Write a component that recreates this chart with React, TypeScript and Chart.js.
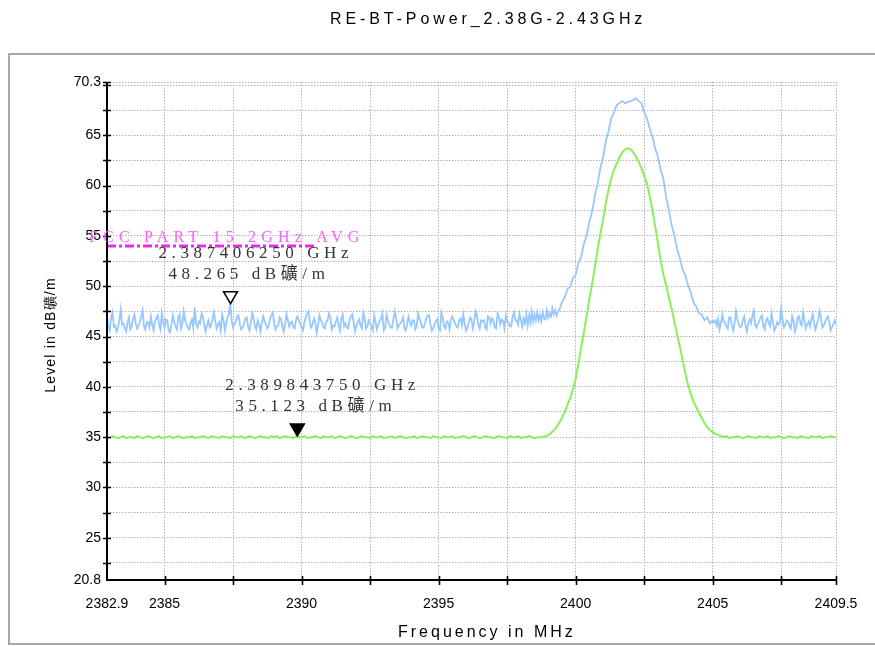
import React, { useEffect, useRef } from 'react';
import { Chart, registerables } from 'chart.js';

Chart.register(...registerables);

const TITLE = 'RE-BT-Power_2.38G-2.43GHz';
const X_TITLE = 'Frequency in MHz';
const Y_TITLE = 'Level in dB礦/m';

const X_MIN = 2382.9;
const X_MAX = 2409.5;
const Y_MIN = 20.8;
const Y_MAX = 70.3;

const xTickValues = [2382.9, 2385, 2387.5, 2390, 2392.5, 2395, 2397.5, 2400, 2402.5, 2405, 2407.5, 2409.5];
const xTickLabels = ['2382.9', '2385', '', '2390', '', '2395', '', '2400', '', '2405', '', '2409.5'];
const yTickValues = [20.8, 22.5, 25, 27.5, 30, 32.5, 35, 37.5, 40, 42.5, 45, 47.5, 50, 52.5, 55, 57.5, 60, 62.5, 65, 67.5, 70, 70.3];
const yTickLabels = ['20.8', '', '25', '', '30', '', '35', '', '40', '', '45', '', '50', '', '55', '', '60', '', '65', '', '', '70.3'];

// Peak trace (blue)
const blueLeftStart = 2382.9;
const blueLeftStep = 0.05;
const blueLeft = [
  46.8, 46.1, 45.6, 46.9, 47.4, 46.0, 46.1, 45.5, 45.9, 46.6, 47.7, 46.2, 46.3, 45.8, 45.5,
  46.4, 46.9, 45.7, 46.0, 46.8, 47.2, 46.3, 45.8, 46.1, 46.5, 47.0, 47.6, 46.0, 45.7, 46.4,
  46.4, 45.9, 47.0, 46.2, 45.6, 46.5, 46.8, 47.1, 46.2, 45.7, 47.3, 46.4, 45.9, 46.7, 46.6,
  45.6, 45.4, 46.2, 47.1, 46.5, 46.0, 45.7, 46.9, 47.2, 45.8, 46.3, 47.5, 46.6, 46.2, 45.9,
  45.7, 46.4, 46.7, 45.8, 47.9, 46.3, 45.9, 46.5, 46.3, 47.3, 47.0, 46.1, 45.5, 46.2, 46.6,
  45.9, 46.1, 46.8, 47.4, 46.5, 45.8, 46.2, 46.4, 45.6, 47.2, 46.7, 45.6, 46.3, 46.9, 47.3,
  48.2, 46.5, 45.9, 46.3, 46.5, 47.0, 47.1, 46.2, 45.7, 45.9, 46.3, 46.8, 46.9, 46.0, 45.6,
  46.4, 47.3, 46.8, 46.0, 45.7, 46.6, 46.2, 45.5, 46.4, 47.0, 46.5, 46.2, 45.8, 46.1, 46.8,
  47.1, 47.4, 46.3, 45.7, 46.0, 46.1, 46.9, 46.7, 46.0, 45.5, 46.3, 47.2, 46.6, 46.0, 46.4,
  46.5, 45.9, 45.8, 46.7, 47.0, 46.6, 46.3, 45.9, 45.6, 46.4, 46.9, 47.3, 47.5, 46.4, 45.9,
  46.2, 46.8, 46.4, 45.4, 46.1, 47.1, 46.6, 46.4, 45.9, 45.8, 46.5, 46.6, 47.3, 46.9, 45.7,
  46.1, 46.0, 46.5, 46.9, 46.2, 45.6, 46.8, 47.2, 46.0, 46.3, 45.9, 45.8, 46.7, 47.0, 47.2,
  46.4, 45.5, 46.1, 46.4, 46.7, 46.1, 45.8, 47.4, 46.9, 45.8, 46.0, 46.6, 46.3, 46.0, 45.6,
  47.1, 46.4, 45.7, 46.2, 46.5, 46.8, 47.3, 45.6, 45.9, 47.2, 46.6, 46.2, 45.9, 45.9, 46.7,
  47.5, 46.8, 45.8, 46.1, 46.3, 46.5, 46.9, 45.8, 45.6, 46.2, 47.0, 46.5, 46.1, 46.6, 46.6,
  45.7, 46.0, 47.3, 46.8, 46.4, 45.9, 45.9, 46.3, 46.8, 47.1, 47.1, 46.2, 45.6, 45.8, 46.2,
  46.5, 46.7, 45.8, 45.6, 47.4, 46.9, 46.0, 45.8, 46.5, 46.4, 45.7, 46.7, 47.0, 46.6, 46.3,
  46.0, 45.9, 46.6, 46.8, 46.1, 47.2, 46.3, 45.6, 45.9, 46.4, 46.9, 46.7, 45.8, 46.4, 47.5,
  47.1, 46.1, 45.8, 46.6, 46.5, 46.6, 45.9, 45.7, 47.0, 46.9, 46.3, 46.8, 46.6, 45.9, 45.8,
  47.3, 47.0, 46.2, 46.7, 46.6, 45.8, 47.1, 46.5, 46.4, 46.0, 46.0, 47.0, 47.4, 46.6, 46.6,
  46.2, 47.3, 46.7, 46.0, 46.8, 46.3, 47.2, 46.1, 47.1, 46.4, 47.5, 46.5, 47.2, 46.6, 47.4,
  46.6, 47.1, 46.5, 47.4, 46.8, 46.7, 47.6, 46.9, 47.3, 47.0, 47.8, 47.2, 47.6, 47.1, 47.5,
];
const bluePeakStart = 2399.4;
const bluePeakStep = 0.1;
const bluePeak = [
  47.6, 48.4, 48.9, 49.7, 50.0, 50.8, 51.1, 52.3, 52.9, 54.2,
  55.0, 56.4, 57.4, 59.0, 60.2, 61.7, 62.8, 64.4, 65.4, 66.7,
  67.3, 68.0, 68.2, 68.4, 68.2, 68.3, 68.4, 68.5, 68.7, 68.4,
  68.2, 67.3, 66.7, 65.7, 64.9, 63.7, 62.9, 61.6, 60.7, 58.9,
  57.6, 56.1, 55.1, 53.7, 52.8, 51.7, 51.1, 50.1, 49.4, 48.4,
  48.0, 47.3, 47.2, 46.6, 46.9, 46.3, 46.6,
];
const blueRightStart = 2405.05;
const blueRightStep = 0.05;
const blueRight = [
  46.4, 46.6, 46.1, 46.8, 45.7, 46.3, 47.2, 46.5, 46.4, 46.0, 45.8, 46.9, 46.9, 46.2, 45.6,
  46.3, 47.5, 46.7, 46.2, 45.9, 46.0, 46.6, 47.0, 46.1, 45.5, 46.4, 46.7, 46.3, 47.1, 47.6,
  46.2, 45.9, 46.3, 46.5, 46.9, 47.1, 46.0, 45.7, 46.6, 46.8, 46.3, 46.0, 47.3, 46.4, 45.6,
  45.9, 46.4, 46.2, 46.4, 47.8, 46.7, 45.9, 46.2, 46.6, 46.5, 46.1, 45.8, 47.0, 46.6, 45.5,
  45.9, 46.9, 47.0, 46.3, 46.1, 47.4, 46.6, 45.8, 46.2, 46.5, 46.0, 46.7, 47.2, 46.3, 45.7,
  46.2, 46.7, 47.5, 46.9, 45.9, 46.1, 46.4, 46.8, 47.0, 46.5, 45.6, 45.9, 46.2, 46.6, 46.2,
];

// Average trace (green), 0.1 MHz steps from 2382.9
const greenStart = 2382.9;
const greenStep = 0.1;
const greenLeft = [
  35.0, 34.9, 35.1, 35.0, 34.9, 35.0, 35.1, 34.9, 35.0, 35.0, 34.9, 35.1, 35.0, 34.9, 35.0,
  35.1, 35.0, 34.9, 35.0, 35.1, 34.9, 35.0, 35.0, 35.1, 34.9, 35.0, 35.1, 35.0, 34.9, 35.0,
  35.0, 35.1, 34.9, 35.0, 35.0, 35.1, 35.0, 34.9, 35.1, 35.0, 35.0, 34.9, 35.1, 35.0, 35.0,
  34.9, 35.1, 35.0, 35.0, 35.1, 34.9, 35.0, 35.1, 35.0, 34.9, 35.0, 35.1, 35.0, 35.0, 34.9,
  35.1, 35.0, 35.1, 34.9, 35.0, 35.1, 35.0, 35.0, 34.9, 35.1, 35.0, 35.0, 35.1, 34.9, 35.0,
  35.0, 35.1, 35.0, 34.9, 35.1, 35.0, 35.0, 35.1, 34.9, 35.0, 35.1, 35.0, 34.9, 35.0, 35.1,
  35.0, 34.9, 35.0, 35.1, 35.0, 35.0, 34.9, 35.1, 35.0, 35.0, 35.1, 34.9, 35.0, 35.0, 35.1,
  34.9, 35.0, 35.1, 35.0, 34.9, 35.0, 35.0, 35.1, 34.9, 35.0, 35.1, 35.0, 35.0, 34.9, 35.1,
  35.0, 35.0, 34.9, 35.1, 35.0, 35.0, 35.1, 34.9, 35.0, 35.0, 35.1, 35.0, 34.9, 35.0, 35.1,
  35.0, 34.9, 35.0, 35.1, 35.0, 35.0, 34.9, 35.0, 35.1, 35.0, 35.0, 34.9, 35.1, 35.0, 35.0,
  35.1, 34.9, 35.0, 35.0, 35.1, 35.0, 34.9, 35.0, 35.0,
];
const greenPeak = [
  35.0, 35.1,
  35.2, 35.4, 35.7, 36.0, 36.4, 36.9, 37.5, 38.2, 38.9, 39.7,
  40.8, 42.3, 43.9, 45.4, 47.0, 48.7, 50.2, 51.9, 53.6, 55.2,
  56.6, 58.2, 59.6, 60.7, 61.6, 62.2, 62.8, 63.3, 63.6, 63.7,
  63.6, 63.3, 62.9, 62.4, 61.7, 61.0, 60.2, 59.0, 57.6, 56.0,
  54.3, 52.6, 51.2, 50.1, 48.9, 47.8, 46.5, 45.2, 44.0, 42.7,
  41.4, 40.2, 39.3, 38.5, 38.0, 37.4, 36.9, 36.4, 36.0, 35.7,
  35.5, 35.3, 35.2, 35.1,
];
const greenRight = [
  35.0, 35.1, 34.9, 35.0, 35.0, 35.1, 35.0, 34.9, 35.0, 35.1, 35.0, 35.0, 34.9, 35.1,
  35.0, 35.0, 35.1, 34.9, 35.0, 35.0, 35.1, 35.0, 34.9, 35.0, 35.1, 35.0, 35.0, 34.9,
  35.1, 35.0, 35.0, 34.9, 35.1, 35.0, 35.0, 35.1, 34.9, 35.0, 35.0, 35.1, 35.0, 35.0,
];

// Limit line
const limitLabel = 'FCC PART 15 2GHz AVG';
const limitLevel = 54;
const limitStartMHz = 2382.9;
const limitEndMHz = 2390.5;

// Markers
const markerFreqs = [2387.40625, 2389.84375];
const markerLevels = [48.265, 35.123];
const markerFreqTexts = ['2.387406250 GHz', '2.389843750 GHz'];
const markerLevelTexts = ['48.265 dB礦/m', '35.123 dB礦/m'];
const markerFilled = [false, true];

const toPoints = (vals: number[], start: number, step: number) =>
  vals.map((v, i) => ({ x: Math.round((start + i * step) * 1000) / 1000, y: v }));

const SANS = "'Liberation Sans', Arial, sans-serif";
const SERIF = "'Liberation Serif', 'Noto Sans CJK SC', serif";

function drawText(
  ctx: CanvasRenderingContext2D,
  text: string,
  x: number,
  y: number,
  font: string,
  color: string,
  spacing: number,
) {
  ctx.save();
  ctx.font = font;
  ctx.fillStyle = color;
  (ctx as any).letterSpacing = spacing + 'px';
  ctx.textAlign = 'left';
  ctx.textBaseline = 'alphabetic';
  ctx.fillText(text, x, y);
  ctx.restore();
}

const overlayPlugin = {
  id: 'overlay',
  beforeDraw(chart: any) {
    const ctx: CanvasRenderingContext2D = chart.ctx;
    ctx.save();
    ctx.fillStyle = '#ffffff';
    ctx.fillRect(0, 0, chart.width, chart.height);
    ctx.strokeStyle = '#a8a8a8';
    ctx.lineWidth = 2;
    ctx.strokeRect(9, 54, chart.width + 20, 590);
    ctx.restore();
    drawText(ctx, TITLE, 330, 24, `16px ${SANS}`, '#000', 3.9);
    drawText(ctx, X_TITLE, 398, 637, `16px ${SANS}`, '#000', 3);
    ctx.save();
    ctx.translate(55, 335);
    ctx.rotate(-Math.PI / 2);
    ctx.font = `14px ${SANS}`;
    (ctx as any).letterSpacing = '1.2px';
    const w = ctx.measureText(Y_TITLE).width;
    ctx.fillStyle = '#000';
    ctx.textBaseline = 'alphabetic';
    ctx.fillText(Y_TITLE, -w / 2, 0);
    ctx.restore();
  },
  afterDatasetsDraw(chart: any) {
    const ctx: CanvasRenderingContext2D = chart.ctx;
    const a = chart.chartArea;
    const xs = chart.scales.x;
    const ys = chart.scales.y;
    ctx.save();
    ctx.strokeStyle = '#000';
    ctx.lineWidth = 2;
    ctx.beginPath();
    ctx.moveTo(a.left, a.top);
    ctx.lineTo(a.left, a.bottom);
    ctx.lineTo(a.right, a.bottom);
    ctx.stroke();
    ctx.lineWidth = 1.6;
    ctx.beginPath();
    yTickValues.forEach((v) => {
      if (v === Y_MIN) return;
      const py = Math.round(ys.getPixelForValue(v)) + 0.5;
      ctx.moveTo(a.left - 4, py);
      ctx.lineTo(a.left + 4, py);
    });
    xTickValues.forEach((v) => {
      if (v === X_MIN) return;
      const px = Math.round(xs.getPixelForValue(v)) + 0.5;
      ctx.moveTo(px, a.bottom - 4);
      ctx.lineTo(px, a.bottom + 5);
    });
    ctx.stroke();
    ctx.restore();

    // limit label
    const ly = ys.getPixelForValue(limitLevel);
    drawText(ctx, limitLabel, 89, ly - 4, `16px ${SERIF}`, 'rgb(255,95,255)', 5.2);

    // markers
    markerFreqs.forEach((f, i) => {
      const px = xs.getPixelForValue(f);
      const py = ys.getPixelForValue(markerLevels[i]);
      ctx.save();
      ctx.beginPath();
      ctx.moveTo(px, py);
      ctx.lineTo(px - 7, py - 12);
      ctx.lineTo(px + 7, py - 12);
      ctx.closePath();
      ctx.lineWidth = 1.5;
      ctx.strokeStyle = '#000';
      ctx.fillStyle = markerFilled[i] ? '#000' : '#fff';
      ctx.fill();
      ctx.stroke();
      ctx.restore();
      drawText(ctx, markerFreqTexts[i], px - 72, py - 46, `17px ${SERIF}`, '#333', 4.6);
      drawText(ctx, markerLevelTexts[i], px - 62, py - 25, `17px ${SERIF}`, '#333', 4.6);
    });
  },
};

export default function App() {
  const ref = useRef<HTMLCanvasElement>(null);
  useEffect(() => {
    const blue = [
      ...toPoints(blueLeft, blueLeftStart, blueLeftStep),
      ...toPoints(bluePeak, bluePeakStart, bluePeakStep),
      ...toPoints(blueRight, blueRightStart, blueRightStep),
    ];
    const green = toPoints([...greenLeft, ...greenPeak, ...greenRight], greenStart, greenStep);
    const limit = [
      { x: limitStartMHz, y: limitLevel },
      { x: limitEndMHz, y: limitLevel },
    ];
    const chart = new Chart(ref.current!, {
      type: 'line',
      data: {
        datasets: [
          {
            data: blue,
            borderColor: 'rgb(150,200,255)',
            borderWidth: 1.8,
            pointRadius: 0,
            tension: 0,
          },
          {
            data: green,
            borderColor: 'rgb(140,238,90)',
            borderWidth: 2,
            pointRadius: 0,
            tension: 0,
          },
          {
            data: limit,
            borderColor: 'rgb(235,40,235)',
            borderWidth: 3,
            borderDash: [9, 3, 3, 3],
            pointRadius: 0,
          },
        ],
      },
      options: {
        responsive: false,
        animation: false,
        events: [],
        layout: { padding: { left: 0, right: 39, top: 82, bottom: 0 } },
        plugins: { legend: { display: false }, tooltip: { enabled: false }, title: { display: false } },
        scales: {
          x: {
            type: 'linear',
            min: X_MIN,
            max: X_MAX,
            afterFit: (s: any) => {
              s.height = 66;
            },
            afterBuildTicks: (s: any) => {
              s.ticks = xTickValues.map((v) => ({ value: v }));
            },
            ticks: {
              autoSkip: false,
              maxRotation: 0,
              padding: 16,
              color: '#000',
              font: { family: SANS, size: 14 },
              callback: (v: any) => {
                const i = xTickValues.indexOf(Number(v));
                return i >= 0 ? xTickLabels[i] : '';
              },
            },
            grid: { color: '#b4b4b4', lineWidth: 1, drawTicks: false },
            border: { display: false, dash: [1.5, 1.5] },
          },
          y: {
            type: 'linear',
            min: Y_MIN,
            max: Y_MAX,
            afterFit: (s: any) => {
              s.width = 107;
            },
            afterBuildTicks: (s: any) => {
              s.ticks = yTickValues.map((v) => ({ value: v }));
            },
            ticks: {
              autoSkip: false,
              padding: 6,
              color: '#000',
              font: { family: SANS, size: 14 },
              callback: (v: any) => {
                const i = yTickValues.indexOf(Number(v));
                return i >= 0 ? yTickLabels[i] : '';
              },
            },
            grid: { color: '#b4b4b4', lineWidth: 1, drawTicks: false },
            border: { display: false, dash: [1.5, 1.5] },
          },
        },
      },
      plugins: [overlayPlugin],
    } as any);
    return () => chart.destroy();
  }, []);
  return (
    <div style={{ position: 'fixed', left: 0, top: 0, width: 875, height: 646, background: '#fff' }}>
      <canvas ref={ref} width={875} height={646} style={{ display: 'block', width: 875, height: 646 }} />
    </div>
  );
}
